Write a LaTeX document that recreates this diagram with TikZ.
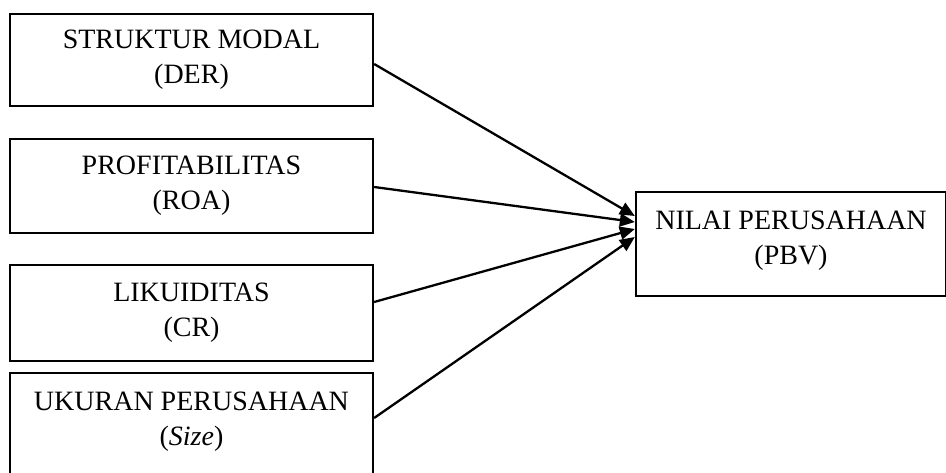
\documentclass[tikz,border=0pt]{standalone}
\usepackage{fontspec}
\setmainfont{Liberation Serif}
\usetikzlibrary{arrows.meta}
\begin{document}
\begin{tikzpicture}[x=1pt,y=-1pt,
  box/.style={draw, line width=2.3pt, rectangle, inner sep=0pt, align=center,
    font=\fontsize{28}{35}\selectfont},
  lbl/.style={inner sep=0pt, anchor=north, align=center, font=\fontsize{28}{35}\selectfont},
  arr/.style={line width=2.3pt, -{Triangle[length=15pt,width=13pt]}}]
\useasboundingbox (0,0) rectangle (946,472);
\begin{scope}
\clip (0,0) rectangle (946,472);
\node[box, minimum width=363pt, minimum height=92pt] (b1) at (191.5,60) {STRUKTUR MODAL\\(DER)};
\node[box, minimum width=363pt, minimum height=94pt] (b2) at (191.5,186) {PROFITABILITAS\\(ROA)};
\node[box, minimum width=363pt, minimum height=96pt] (b3) at (191.5,313) {LIKUIDITAS\\(CR)};
\node[box, minimum width=363pt, minimum height=106pt] (b4) at (191.5,426) {};
\node[lbl] (t4) at (191.5,392) {UKURAN PERUSAHAAN\\(\textit{Size})};
\node[box, minimum width=310pt, minimum height=104pt] (r) at (791,244) {};
\node[lbl] (tr) at (791,211) {NILAI PERUSAHAAN\\(PBV)};
\end{scope}
\draw[arr] ([yshift=-4pt]b1.east) -- ([yshift=28pt]r.west);
\draw[arr] ([yshift=-1pt]b2.east) -- ([yshift=22pt]r.west);
\draw[arr] ([yshift=11pt]b3.east) -- ([yshift=15pt]r.west);
\draw[arr] ([yshift=8pt]b4.east) -- ([yshift=7pt]r.west);
\end{tikzpicture}
\end{document}
